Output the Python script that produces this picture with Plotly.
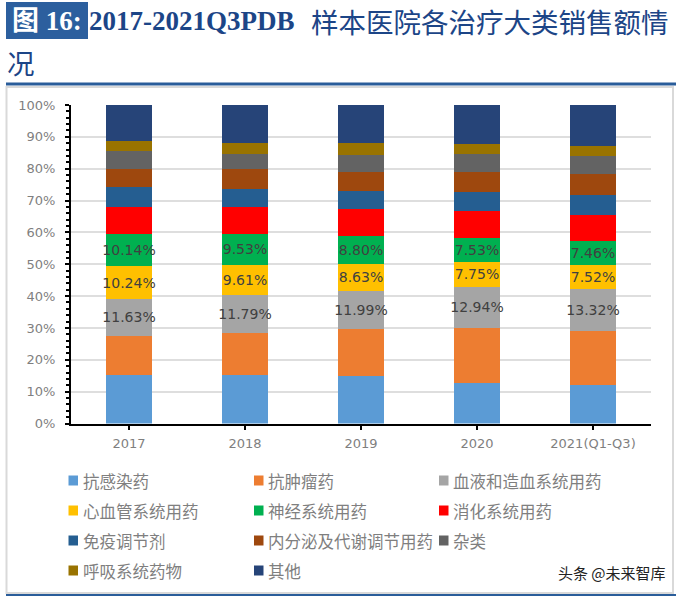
import plotly.graph_objects as go

W, H = 678, 596
years = ["2017", "2018", "2019", "2020", "2021(Q1-Q3)"]
names = ["抗感染药", "抗肿瘤药", "血液和造血系统用药", "心血管系统用药", "神经系统用药", "消化系统用药",
         "免疫调节剂", "内分泌及代谢调节用药", "杂类", "呼吸系统药物", "其他"]
colors = ["#5B9BD5", "#ED7D31", "#A5A5A5", "#FFC000", "#00B050", "#FF0000",
          "#255E91", "#9E480E", "#636363", "#997300", "#264478"]

anti_infective = [15.1, 15.1, 14.8, 12.6, 12.0]
oncology = [12.4, 13.4, 14.8, 17.4, 17.0]
blood = [11.63, 11.79, 11.99, 12.94, 13.32]
cardio = [10.24, 9.61, 8.63, 7.75, 7.52]
nervous = [10.14, 9.53, 8.80, 7.53, 7.46]
digestive = [8.4, 8.4, 8.4, 8.5, 8.2]
immune = [6.3, 5.9, 5.6, 6.0, 6.3]
endocrine = [5.8, 6.1, 6.1, 6.4, 6.6]
misc = [5.4, 4.7, 5.2, 5.4, 5.6]
respiratory = [3.4, 3.5, 3.7, 3.3, 3.2]
other = [11.19, 12.07, 11.98, 12.18, 12.8]
series = [anti_infective, oncology, blood, cardio, nervous, digestive,
          immune, endocrine, misc, respiratory, other]
labelled = {"血液和造血系统用药", "心血管系统用药", "神经系统用药"}

fig = go.Figure()
for name, vals, col in zip(names, series, colors):
    show = name in labelled
    fig.add_bar(
        x=years, y=vals, name=name, marker=dict(color=col, line=dict(width=0)),
        text=[f"{v:.2f}%" for v in vals] if show else None,
        textposition="inside" if show else "none",
        insidetextanchor="middle", textangle=0, constraintext="none",
        insidetextfont=dict(family="DejaVu Sans", size=14, color="#404040"),
        cliponaxis=False, showlegend=False, hoverinfo="skip",
    )

def px(x): return x / W
def py(y): return 1 - y / H

def rect(x0, x1, y0, y1, fill, line=None, layer="above"):
    return dict(type="rect", xref="paper", yref="paper", x0=px(x0), x1=px(x1), y0=py(y0), y1=py(y1),
                line=line or dict(width=0), fillcolor=fill, layer=layer)

def hline(x0, x1, y, col, w):
    return dict(type="line", xref="paper", yref="paper", x0=px(x0), x1=px(x1), y0=py(y), y1=py(y),
                line=dict(color=col, width=w))

shapes = [
    rect(6.5, 673, 87, 593, "white", dict(color="#D9D9D9", width=2), "below"),
    hline(6, 676, 84, "#2A5D9A", 3),
    hline(6, 676, 595, "#2A5D9A", 2),
    rect(6, 88, 2, 39, "#2C5F9E"),
]
TITLE = "#1C4587"
CJK = "Noto Sans CJK SC"
SERIF = "Liberation Serif"
ann = [
    dict(x=px(47), y=py(21), text="<b>图 16:</b>", font=dict(family=f"{SERIF}, {CJK}", size=27, color="white"), xanchor="center"),
    dict(x=px(89), y=py(21), text="<b>2017-2021Q3PDB</b>", font=dict(family=SERIF, size=27, color=TITLE), xanchor="left"),
    dict(x=px(311), y=py(21), text="样本医院各治疗大类销售额情", font=dict(family=CJK, size=27.5, color=TITLE), xanchor="left"),
    dict(x=px(7), y=py(62), text="况", font=dict(family=CJK, size=27.5, color=TITLE), xanchor="left"),
    dict(x=px(666), y=py(572), text="头条 @未来智库", font=dict(family=CJK, size=15, color="#222222"), xanchor="right"),
]
cols = [68.5, 254, 439]
rows = [480.5, 510.5, 540.5, 570.5]
for i, (name, col) in enumerate(zip(names, colors)):
    cx, cy = cols[i % 3], rows[i // 3]
    shapes.append(rect(cx, cx + 9.5, cy - 5, cy + 5, col))
    ann.append(dict(x=px(cx + 14), y=py(cy), text=name, xanchor="left",
                    font=dict(family=CJK, size=16.5, color="#7F7F7F")))
for a in ann:
    a.update(xref="paper", yref="paper", showarrow=False, yanchor="middle", borderpad=0, borderwidth=0)

fig.update_layout(
    width=W, height=H, margin=dict(l=0, r=0, t=0, b=0, autoexpand=False), autosize=False,
    paper_bgcolor="white", plot_bgcolor="rgba(0,0,0,0)",
    barmode="stack", bargap=0.6, showlegend=False,
    shapes=shapes, annotations=ann,
    xaxis=dict(domain=[px(71), px(651)], type="category", range=[-0.5, 4.5], automargin=False,
               showline=True, linecolor="black", linewidth=2,
               ticks="outside", ticklen=4, tickwidth=1.5, tickcolor="black", ticklabelstandoff=3,
               tickfont=dict(family="DejaVu Sans", size=13, color="#7F7F7F"), showgrid=False),
    yaxis=dict(domain=[py(423.5), py(105)], range=[0, 100], dtick=10, ticksuffix="%", automargin=False,
               showline=True, linecolor="black", linewidth=2,
               ticks="outside", ticklen=4, tickwidth=1.5, tickcolor="black", ticklabelstandoff=7,
               showgrid=True, gridcolor="#DEDEDE", gridwidth=1.5, zeroline=False,
               minor=dict(dtick=2, ticks="outside", ticklen=3, tickwidth=1.5, tickcolor="black", showgrid=False),
               tickfont=dict(family="DejaVu Sans", size=13, color="#7F7F7F")),
)
fig.write_html("out.html", config=dict(displayModeBar=False),
               post_script="document.body.style.margin='0';document.body.style.overflow='hidden';")
